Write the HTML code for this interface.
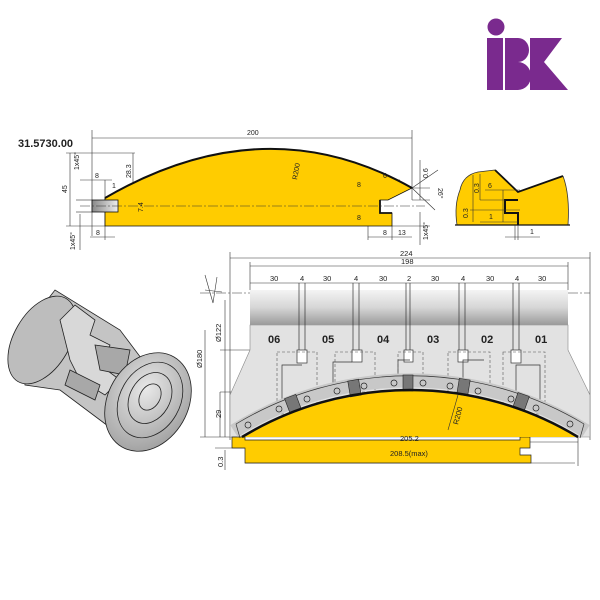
<!DOCTYPE html>
<html><head><meta charset="utf-8"><style>
html,body{margin:0;padding:0;background:#fff;}
svg{display:block;}
text{font-family:"Liberation Sans",Arial,sans-serif;fill:#222;}
</style></head><body>
<svg width="600" height="600" viewBox="0 0 600 600" xmlns="http://www.w3.org/2000/svg">
<defs>
<linearGradient id="gb" x1="0" y1="0" x2="0" y2="1">
<stop offset="0" stop-color="#f4f4f4"/><stop offset="0.5" stop-color="#d6d6d6"/><stop offset="1" stop-color="#9a9a9a"/>
</linearGradient>
<linearGradient id="gr" x1="0" y1="0" x2="1" y2="0">
<stop offset="0" stop-color="#888"/><stop offset="1" stop-color="#eee"/>
</linearGradient>
<radialGradient id="cg" cx="0.4" cy="0.4" r="0.7"><stop offset="0" stop-color="#e8e8e8"/><stop offset="1" stop-color="#9c9c9c"/></radialGradient>
</defs>

<!-- Logo -->
<g fill="#7a2a8e">
<circle cx="496" cy="27" r="8.5"/>
<rect x="487" y="38" width="16" height="52"/>
<path d="M505 38 H518 A11 12 0 0 1 518 62 A13 14 0 0 1 518 90 H505 Z"/>
<path d="M530 38 H562 L544 62 L568 90 H530 Z"/>
</g>

<!-- Top-left drawing -->
<text x="18" y="147" font-size="11" font-weight="bold" fill="#111">31.5730.00</text>
<g stroke="#333" stroke-width="0.6" fill="none">
<line x1="92" y1="130" x2="92" y2="236"/><line x1="412" y1="130" x2="412" y2="200"/>
<line x1="92" y1="138" x2="412" y2="138"/>
<line x1="66" y1="153" x2="135" y2="153"/><line x1="70" y1="153" x2="70" y2="226"/>
<line x1="66" y1="226" x2="105" y2="226"/>
<line x1="80" y1="180" x2="112" y2="180"/><line x1="105" y1="180" x2="105" y2="240"/>
<line x1="133" y1="153" x2="133" y2="200"/>
<line x1="140" y1="198" x2="140" y2="212"/>
<line x1="76" y1="200" x2="92" y2="200"/><line x1="76" y1="212" x2="92" y2="212"/>
<line x1="80" y1="214" x2="80" y2="250"/>
<line x1="90" y1="237" x2="115" y2="237"/>
<line x1="368" y1="188" x2="368" y2="240"/><line x1="368" y1="188" x2="412" y2="188"/>
<line x1="380" y1="180" x2="400" y2="180"/><line x1="392" y1="226" x2="392" y2="240"/>
<line x1="368" y1="237" x2="412" y2="237"/>
<line x1="412" y1="200" x2="430" y2="200"/><line x1="412" y1="188" x2="430" y2="188"/>
<line x1="420" y1="160" x2="420" y2="200"/>
<line x1="392" y1="226" x2="430" y2="226"/><line x1="420" y1="212" x2="420" y2="245"/>
<path d="M412 188 L438 170 M412 188 L435 210"/>
<line x1="290" y1="155" x2="286" y2="180"/>
</g>
<path d="M105 226 V198 Q265 105 412 188 L388 200 H380 V213 H392 V226 Z" fill="#ffcc00" stroke="#111" stroke-width="0.8"/>
<path d="M105 198 Q265 105 412 188" fill="none" stroke="#111" stroke-width="2"/>
<rect x="92" y="200" width="26" height="12" fill="url(#gr)" stroke="#111" stroke-width="0.8"/>
<path d="M380 200 V213 H392" fill="none" stroke="#111" stroke-width="1.8"/>
<line x1="80" y1="206" x2="425" y2="206" stroke="#333" stroke-width="0.6" stroke-dasharray="10,2,2,2"/>
<g font-size="7">
<text x="247" y="135">200</text>
<text x="95" y="178">8</text>
<text x="112" y="188">1</text>
<text x="96" y="235">8</text>
<text x="357" y="187">8</text>
<text x="383" y="178">6</text>
<text x="357" y="220">8</text>
<text x="383" y="235">8</text>
<text x="398" y="235">13</text>
<text transform="translate(67,193) rotate(-90)">45</text>
<text transform="translate(79,170) rotate(-90)">1x45°</text>
<text transform="translate(131,178) rotate(-90)">28.3</text>
<text transform="translate(143,212) rotate(-90)">7.4</text>
<text transform="translate(297,180) rotate(-80)">R200</text>
<text transform="translate(428,178) rotate(-90)">0.6</text>
<text transform="translate(438,188) rotate(90)">26°</text>
<text transform="translate(428,240) rotate(-90)">1x45°</text>
<text transform="translate(75,250) rotate(-90)">1x45°</text>
</g>

<!-- Top-right profile -->
<path d="M457 225 Q454 205 460 190 Q463 175 478 172 L495 170 L518 192 L563 176 Q570 195 568 225 Z" fill="#ffcc00"/>
<path d="M495 170 L518 192 L563 176" fill="none" stroke="#111" stroke-width="1.8"/>
<path d="M563 176 Q570 195 568 225" fill="none" stroke="#333" stroke-width="0.8"/>
<path d="M457 225 Q454 205 460 190 Q463 175 478 172 L495 170" fill="none" stroke="#333" stroke-width="0.8"/>
<line x1="455" y1="225" x2="570" y2="225" stroke="#111" stroke-width="1.2"/>
<path d="M518 200 H505 V213 H518 V225" fill="none" stroke="#111" stroke-width="2"/>
<g stroke="#333" stroke-width="0.6" fill="none">
<line x1="470" y1="210" x2="520" y2="210"/><line x1="473" y1="175" x2="473" y2="222"/>
<line x1="480" y1="174" x2="480" y2="200"/><line x1="480" y1="200" x2="505" y2="200"/>
<line x1="485" y1="190" x2="520" y2="190"/><line x1="503" y1="190" x2="503" y2="222"/>
<line x1="480" y1="222" x2="518" y2="222"/>
<line x1="515" y1="225" x2="515" y2="240"/><line x1="518" y1="225" x2="518" y2="240"/>
<line x1="505" y1="237" x2="540" y2="237"/>
</g>
<g font-size="7">
<text transform="translate(468,218) rotate(-90)">0.3</text>
<text transform="translate(479,193) rotate(-90)">0.3</text>
<text x="488" y="188">6</text>
<text x="489" y="219">1</text>
<text x="530" y="234">1</text>
</g>

<!-- Main drawing -->
<g stroke="#333" stroke-width="0.6" fill="none">
<line x1="230" y1="252" x2="230" y2="440"/><line x1="590" y1="252" x2="590" y2="440"/>
<line x1="230" y1="258" x2="590" y2="258"/>
<line x1="250" y1="262" x2="250" y2="290"/><line x1="568" y1="262" x2="568" y2="290"/>
<line x1="250" y1="266" x2="568" y2="266"/>
<line x1="250" y1="283" x2="568" y2="283"/>
<line x1="220" y1="350" x2="250" y2="350"/><line x1="225" y1="300" x2="225" y2="437"/>
<line x1="205" y1="330" x2="205" y2="437"/><line x1="200" y1="437" x2="245" y2="437"/>
<line x1="220" y1="392" x2="400" y2="392"/><line x1="220" y1="392" x2="220" y2="437"/>
<line x1="225" y1="450" x2="225" y2="470"/><line x1="215" y1="448" x2="245" y2="448"/>
<line x1="242" y1="442" x2="578" y2="442"/><line x1="245" y1="463" x2="575" y2="463"/>
<line x1="578" y1="437" x2="578" y2="466"/>
<path d="M205 275 L213 303 L217 277 M205 290 L222 292"/>
</g>
<line x1="200" y1="293" x2="590" y2="293" stroke="#333" stroke-width="0.6" stroke-dasharray="10,2,2,2"/>
<!-- body -->
<path d="M250 325 V350 L230 395 V437 H590 V395 L568 350 V325 Z" fill="#e2e2e2" stroke="#888" stroke-width="0.6"/>
<rect x="250" y="290" width="318" height="35" fill="url(#gb)"/>
<!-- slot lines -->
<g stroke="#333" stroke-width="0.7" fill="none">
<path d="M299 283 V350 M305 283 V350 M353 283 V350 M359 283 V350 M406 283 V352 M410 283 V352 M459 283 V350 M465 283 V350 M513 283 V350 M519 283 V350"/>
<rect x="297" y="350" width="10" height="13" fill="#fff"/>
<rect x="352" y="350" width="10" height="12" fill="#fff"/>
<rect x="404" y="350" width="9" height="12" fill="#fff"/>
<rect x="458" y="350" width="10" height="12" fill="#fff"/>
<rect x="511" y="350" width="10" height="13" fill="#fff"/>
<path d="M282 400 V365 H302 M333 390 V362 H352 M398 380 V360 H410 M463 395 V360 H484 M516 400 V365 H540 V410" />
</g>
<g stroke="#555" stroke-width="0.6" fill="none" stroke-dasharray="3,2">
<rect x="277" y="352" width="40" height="62"/><rect x="335" y="352" width="40" height="40"/>
<rect x="398" y="352" width="25" height="30"/><rect x="448" y="352" width="42" height="40"/>
<rect x="503" y="352" width="42" height="62"/>
</g>
<g font-size="11" font-weight="bold" fill="#111">
<text x="268" y="343">06</text><text x="322" y="343">05</text><text x="377" y="343">04</text>
<text x="427" y="343">03</text><text x="481" y="343">02</text><text x="535" y="343">01</text>
</g>
<!-- yellow -->
<path d="M232 437 H245 V440 H520 V437 H530 V448 H520 V455 H531 V463 H245 V448 H232 Z" fill="#ffcc00" stroke="#222" stroke-width="0.7"/>
<path d="M242 437 A324 324 0 0 1 578 437 Z" fill="#ffcc00"/>
<!-- knife band (annulus R324..338, center 410,714) -->
<path d="M234 431 A331 331 0 0 1 586 431" fill="none" stroke="#c8c8c8" stroke-width="14"/>
<path d="M236 424 A338 338 0 0 1 584 424" fill="none" stroke="#333" stroke-width="0.7"/>
<line x1="236" y1="424" x2="240" y2="438" stroke="#333" stroke-width="0.7"/>
<line x1="584" y1="424" x2="580" y2="438" stroke="#333" stroke-width="0.7"/>
<g fill="#777" stroke="#222" stroke-width="0.6">
<rect x="287" y="396" width="12" height="16" transform="rotate(-20.7 293 404)"/>
<rect x="349" y="380" width="11" height="16" transform="rotate(-9.6 355 388)"/>
<rect x="403" y="375" width="10" height="16"/>
<rect x="458" y="379" width="11" height="16" transform="rotate(9.2 463 387)"/>
<rect x="515" y="394" width="12" height="16" transform="rotate(19.6 521 402)"/>
</g>
<g fill="none" stroke="#222" stroke-width="0.7">
<circle cx="248" cy="425" r="3"/><circle cx="279" cy="409" r="3"/><circle cx="307" cy="399" r="3"/>
<circle cx="337" cy="391" r="3"/><circle cx="364" cy="386" r="3"/><circle cx="394" cy="383" r="3"/>
<circle cx="423" cy="383" r="3"/><circle cx="450" cy="386" r="3"/><circle cx="478" cy="391" r="3"/>
<circle cx="511" cy="399" r="3"/><circle cx="536" cy="408" r="3"/><circle cx="570" cy="424" r="3"/>
</g>
<path d="M242 437 A324 324 0 0 1 578 437" fill="none" stroke="#111" stroke-width="2.5"/>
<line x1="458" y1="395" x2="448" y2="430" stroke="#333" stroke-width="0.6"/>
<g font-size="7.5">
<text x="400" y="256">224</text>
<text x="401" y="264">198</text>
<text x="270" y="281">30</text><text x="300" y="281">4</text><text x="323" y="281">30</text>
<text x="354" y="281">4</text><text x="379" y="281">30</text><text x="407" y="281">2</text>
<text x="431" y="281">30</text><text x="461" y="281">4</text><text x="486" y="281">30</text>
<text x="515" y="281">4</text><text x="538" y="281">30</text>
<text x="400" y="441">205.2</text>
<text x="390" y="456">208.5(max)</text>
<text transform="translate(458,425) rotate(-75)">R200</text>
<text transform="translate(221,342) rotate(-90)">Ø122</text>
<text transform="translate(202,368) rotate(-90)">Ø180</text>
<text transform="translate(221,418) rotate(-90)">29</text>
<text transform="translate(223,467) rotate(-90)">0.3</text>
</g>

<!-- 3D cutter -->
<g stroke="#222" stroke-width="0.8">
<path d="M20 335 L55 290 L120 330 L150 370 L175 385 L140 450 L100 420 L60 390 L25 385 Z" fill="#c4c4c4"/>
<ellipse cx="42" cy="340" rx="28" ry="48" transform="rotate(30 42 340)" fill="#bdbdbd"/>
<path d="M60 320 L75 305 L95 320 L90 335 L110 345 L100 365 L120 380 L105 395 L80 380 L70 360 Z" fill="#d8d8d8"/>
<path d="M95 345 L130 350 L125 375 L100 370 Z M70 370 L100 385 L95 400 L65 385 Z" fill="#a8a8a8"/>
<ellipse cx="148" cy="402" rx="40" ry="52" transform="rotate(30 148 402)" fill="url(#cg)"/>
<g fill="none">
<ellipse cx="150" cy="400" rx="30" ry="40" transform="rotate(30 150 400)"/>
<ellipse cx="150" cy="398" rx="20" ry="27" transform="rotate(30 150 398)"/>
<ellipse cx="150" cy="397" rx="10" ry="14" transform="rotate(30 150 397)"/>
</g>
</g>
</svg>
</body></html>
